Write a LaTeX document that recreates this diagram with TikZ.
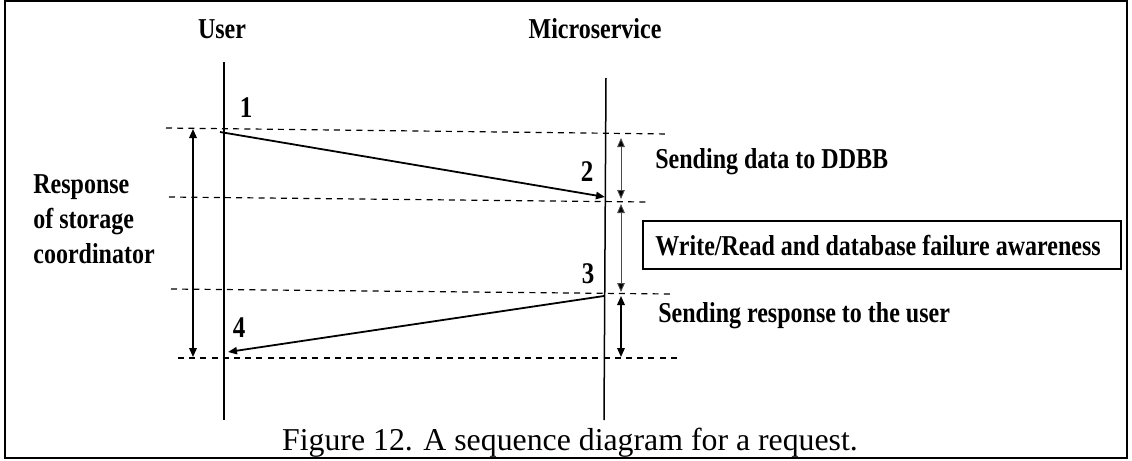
\documentclass[tikz,border=0pt]{standalone}
\usepackage{fontspec}
\setmainfont{Liberation Serif}
\usetikzlibrary{arrows.meta}
% bold label text, set taller than the regular face
\newcommand\tallbf[1]{\scalebox{1}[1.2]{#1}}
\tikzset{
  lbl/.style={font=\fontsize{12}{14}\selectfont\bfseries, inner sep=0pt},
  num/.style={font=\fontsize{12.5}{14}\selectfont\bfseries, inner sep=0pt, anchor=base},
  lifeline/.style={line width=0.75pt},
  guide/.style={line width=0.6pt, dash pattern=on 3pt off 2.6pt},
  msg/.style={line width=0.9pt, -{Triangle[length=4.5pt,width=3.6pt]}},
  span/.style={line width=0.8pt, {Triangle[length=4.5pt,width=3.8pt]}-{Triangle[length=4.5pt,width=3.8pt]}},
  thinspan/.style={line width=0.45pt, draw=black!70, {Triangle[length=4.5pt,width=3.8pt,fill=black]}-{Triangle[length=4.5pt,width=3.8pt,fill=black]}},
}
\begin{document}
\begin{tikzpicture}[x=0.5pt, y=-0.5pt]
  \useasboundingbox (0,0) rectangle (1132,461);
  % frame
  \draw[line width=1.1pt] (5,1) rectangle (1127,458);

  % participants
  \node[lbl, anchor=base] (user) at (222,38) {\tallbf{User}};
  \node[lbl, anchor=base] (ms) at (595,38) {\tallbf{Microservice}};

  % lifelines
  \coordinate (uTop) at (224,62);
  \coordinate (uBot) at (224,420);
  \coordinate (mTop) at (606,78);
  \coordinate (mBot) at (604,420);
  \draw[lifeline] (uTop) -- (uBot);
  \draw[lifeline] (mTop) -- (mBot);

  % dashed time marks
  \coordinate (g1a) at (166,128); \coordinate (g1b) at (669,134);
  \coordinate (g2a) at (169,197); \coordinate (g2b) at (646,202);
  \coordinate (g3a) at (171,289); \coordinate (g3b) at (670,294);
  \coordinate (g4a) at (178,358); \coordinate (g4b) at (677,358);
  \draw[guide] (g1a) -- (g1b);
  \draw[guide] (g2a) -- (g2b);
  \draw[guide] (g3a) -- (g3b);
  \draw[guide] (g4a) -- (g4b);

  % messages
  \coordinate (p1) at (220,132);
  \coordinate (p2) at (605,197);
  \coordinate (p3) at (604,296);
  \coordinate (p4) at (228,352);
  \draw[msg] (p1) -- (p2);
  \draw[msg] (p3) -- (p4);
  \node[num] (n1) at (246,117) {\tallbf{1}};
  \node[num] (n2) at (587,181) {\tallbf{2}};
  \node[num] (n3) at (588,283) {\tallbf{3}};
  \node[num] (n4) at (239,337) {\tallbf{4}};

  % overall response span
  \coordinate (rTop) at (193,129);
  \coordinate (rBot) at (193,357);
  \draw[span] (rTop) -- (rBot);
  \node[lbl, anchor=base west] (r1) at (33,193) {\tallbf{Response}};
  \node[lbl, anchor=base west] (r2) at (33,228) {\tallbf{of storage}};
  \node[lbl, anchor=base west] (r3) at (33,263) {\tallbf{coordinator}};

  % phase spans
  \coordinate (s1a) at (621,138); \coordinate (s1b) at (621,199);
  \coordinate (s2a) at (621,204); \coordinate (s2b) at (621,292);
  \coordinate (s3a) at (621,296); \coordinate (s3b) at (621,357);
  \draw[thinspan] (s1a) -- (s1b);
  \draw[thinspan] (s2a) -- (s2b);
  \draw[span] (s3a) -- (s3b);

  \node[lbl, anchor=base west] (t1) at (655,168) {\tallbf{Sending data to DDBB}};
  \node[draw, line width=1.1pt, minimum width=239pt, minimum height=24pt, inner sep=0pt] (box) at (882,245) {};
  \node[lbl, anchor=base west] (t2) at (655,255) {\tallbf{Write/Read and database failure awareness}};
  \node[lbl, anchor=base west] (t3) at (658,322) {\tallbf{Sending response to the user}};

  % caption
  \node[font=\fontsize{15.9}{18}\selectfont, inner sep=0pt, anchor=base] (cap) at (570,450) {Figure 12. A sequence diagram for a request.};
\end{tikzpicture}
\end{document}
